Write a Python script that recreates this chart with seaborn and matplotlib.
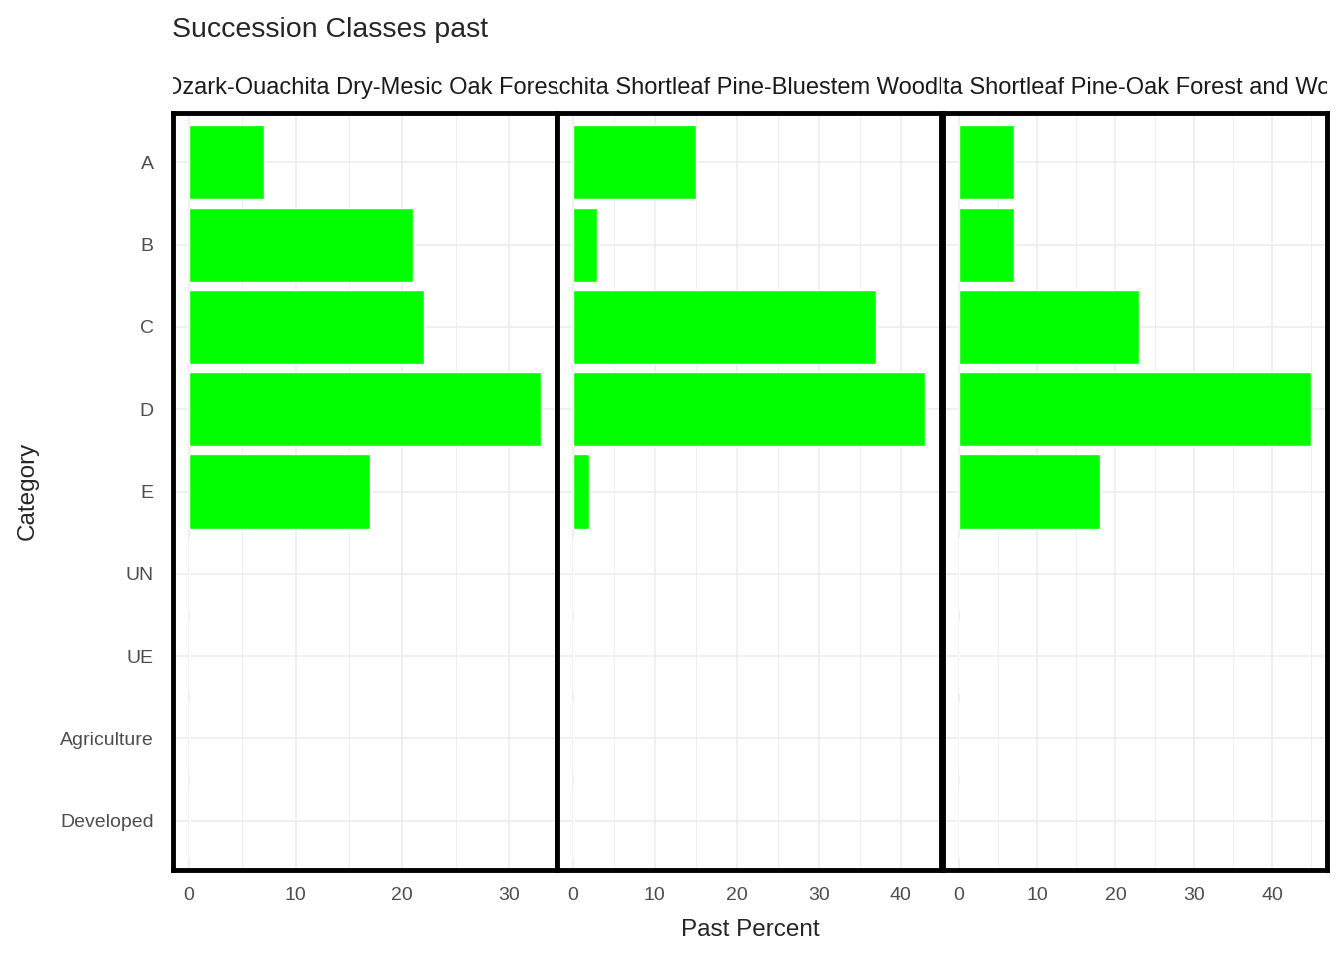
import pandas as pd
import matplotlib
matplotlib.use("Agg")
import matplotlib.pyplot as plt
import seaborn as sns
from matplotlib.transforms import Bbox

categories = ["A", "B", "C", "D", "E", "UN", "UE", "Agriculture", "Developed"]
panel_names = ["Ozark-Ouachita Dry-Mesic Oak Forest",
               "Ouachita Shortleaf Pine-Bluestem Woodland",
               "Ouachita Shortleaf Pine-Oak Forest and Woodland"]
oak_forest = [7, 21, 22, 33, 17, 0, 0, 0, 0]
pine_bluestem = [15, 3, 37, 43, 2, 0, 0, 0, 0]
pine_oak = [7, 7, 23, 45, 18, 0, 0, 0, 0]
panel_values = [oak_forest, pine_bluestem, pine_oak]
ticks = [[0, 10, 20, 30], [0, 10, 20, 30, 40], [0, 10, 20, 30, 40]]

sns.set_style("white")
plt.rcParams['font.family'] = ['Liberation Sans', 'DejaVu Sans']

W, H = 1344, 960
fig = plt.figure(figsize=(W / 100, H / 100), dpi=100)
lefts = [173, 557, 943]
width = 384
top, bottom = 113, 870

for i, (name, vals) in enumerate(zip(panel_names, panel_values)):
    ax = fig.add_axes([lefts[i] / W, 1 - bottom / H, width / W, (bottom - top) / H])
    df = pd.DataFrame({"Category": categories, "Past Percent": vals})
    sns.barplot(data=df, x="Past Percent", y="Category", order=categories,
                color="#00ff00", saturation=1, width=0.9, ax=ax, zorder=3)
    mx = max(vals)
    ax.set_xticks(ticks[i])
    ax.set_xticks([t + 5 for t in ticks[i]], minor=True)
    ax.set_xlim(-0.045 * mx, mx * 1.045)
    ax.set_ylim(8.6, -0.6)
    ax.grid(True, which="major", color="#ebebeb", lw=1.1, zorder=0)
    ax.grid(True, which="minor", axis="x", color="#ebebeb", lw=0.6, zorder=0)
    ax.set_axisbelow(True)
    for s in ax.spines.values():
        s.set_visible(True)
        s.set_color("black")
        s.set_linewidth(3.5)
    ax.tick_params(axis="both", length=0, labelsize=14, labelcolor="#4d4d4d")
    ax.tick_params(axis="x", pad=12)
    ax.tick_params(axis="y", pad=14)
    ax.set_xlabel("")
    ax.set_ylabel("")
    if i > 0:
        ax.set_yticklabels([])
    t = fig.text((lefts[i] + width / 2) / W, 1 - 88 / H, name, ha="center", va="center",
                 fontsize=17, color="#1a1a1a")
    t.set_clip_box(Bbox.from_extents(lefts[i], 0, lefts[i] + width, H))
    t.set_clip_on(True)

fig.text(172 / W, 1 - 30 / H, "Succession Classes past", fontsize=20.5, va="center")
fig.text(750 / W, 1 - 930 / H, "Past Percent", fontsize=17.5, ha="center", va="center")
fig.text(28 / W, 1 - 491 / H, "Category", fontsize=17.5, rotation=90, ha="center", va="center")

fig.savefig("out.png", dpi=100)
